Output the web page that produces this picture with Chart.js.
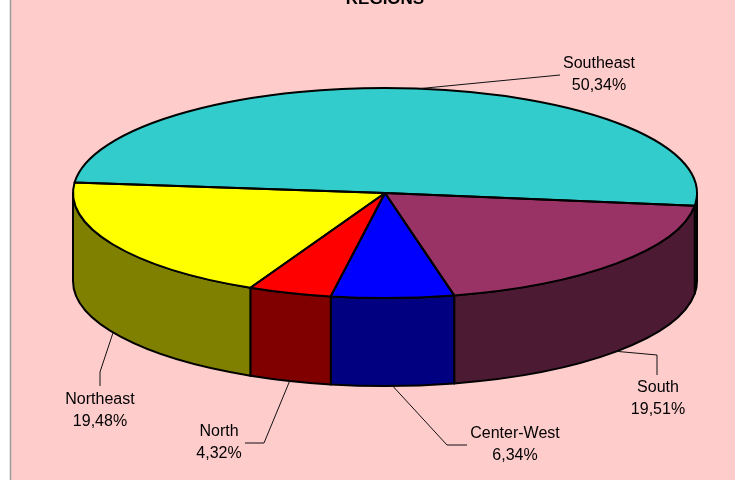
<!DOCTYPE html>
<html><head><meta charset="utf-8">
<script src="https://cdn.jsdelivr.net/npm/chart.js@4.4.0/dist/chart.umd.min.js"></script>
<style>html,body{margin:0;padding:0;background:#fff;overflow:hidden}canvas{display:block}</style>
</head><body>
<canvas id="c" width="735" height="480"></canvas>
<script>
const chartTitle = 'REGIONS';
const categories = ['Southeast', 'South', 'Center-West', 'North', 'Northeast'];
const shares = [50.34, 19.51, 6.34, 4.32, 19.48];
const shareLabels = ['50,34%', '19,51%', '6,34%', '4,32%', '19,48%'];
const topColors = ['#33CCCC', '#993366', '#0000FF', '#FF0000', '#FFFF00'];
const sideColors = ['#1A6666', '#4D1A33', '#000080', '#800000', '#808000'];

// layout / style settings (not data)
const layout = {
  frameLeft: 11,
  depth: 88,
  stroke: 2,
  titleBaseline: 4,
  lineGap: 22,
  labels: [
    { x: 599, y: 64, path: [[560, 75]] },
    { x: 658, y: 388, path: [[657, 355], [657, 375]] },
    { x: 515, y: 434, path: [[447, 445], [467, 445]] },
    { x: 219, y: 432, path: [[264, 443], [245, 443]] },
    { x: 100, y: 400, path: [[100, 372], [100, 386]] }
  ]
};
const FONT = '"Liberation Sans", Arial, Helvetica, sans-serif';

function geom(chart) {
  const arcs = chart.getDatasetMeta(0).data;
  const a0 = arcs[0];
  const r = a0.outerRadius;
  const rx = chart.chartArea.width / 2;
  return { arcs, cx: a0.x, cy: a0.y, rx, ry: r, sx: rx / r };
}

const pie3d = {
  id: 'pie3d',
  beforeDraw(chart) {
    const { ctx, width, height } = chart;
    ctx.save();
    ctx.fillStyle = '#FFFFFF';
    ctx.fillRect(0, 0, width, height);
    ctx.fillStyle = '#FFCCCC';
    ctx.fillRect(layout.frameLeft, 0, width - layout.frameLeft, height);
    ctx.strokeStyle = '#9A9A9A';
    ctx.lineWidth = 1.5;
    ctx.beginPath();
    ctx.moveTo(layout.frameLeft - 0.5, 0);
    ctx.lineTo(layout.frameLeft - 0.5, height);
    ctx.stroke();
    ctx.fillStyle = '#000';
    ctx.font = 'bold 17px ' + FONT;
    ctx.textAlign = 'center';
    ctx.textBaseline = 'alphabetic';
    ctx.fillText(chartTitle, (chart.chartArea.left + chart.chartArea.right) / 2, layout.titleBaseline);
    ctx.restore();
  },
  beforeDatasetsDraw(chart) {
    const g = geom(chart);
    const ctx = chart.ctx;
    const d = layout.depth;
    ctx.save();
    ctx.lineWidth = layout.stroke;
    ctx.strokeStyle = '#000';
    ctx.lineJoin = 'round';
    g.arcs.forEach((arc, i) => {
      for (const k of [-2, 0, 2]) {
        const s = Math.max(arc.startAngle, k * Math.PI);
        const e = Math.min(arc.endAngle, k * Math.PI + Math.PI);
        if (e > s) {
          ctx.beginPath();
          ctx.ellipse(g.cx, g.cy, g.rx, g.ry, 0, s, e);
          ctx.lineTo(g.cx + g.rx * Math.cos(e), g.cy + g.ry * Math.sin(e) + d);
          ctx.ellipse(g.cx, g.cy + d, g.rx, g.ry, 0, e, s, true);
          ctx.closePath();
          ctx.fillStyle = sideColors[i];
          ctx.fill();
          ctx.stroke();
        }
      }
    });
    ctx.restore();
    ctx.save();
    ctx.translate(g.cx, g.cy);
    ctx.scale(g.sx, 1);
    ctx.translate(-g.cx, -g.cy);
  },
  afterDatasetsDraw(chart) {
    const ctx = chart.ctx;
    ctx.restore();
    const g = geom(chart);
    const d = layout.depth;
    ctx.save();
    ctx.lineWidth = layout.stroke;
    ctx.strokeStyle = '#000';
    ctx.lineJoin = 'round';
    g.arcs.forEach((arc) => {
      ctx.beginPath();
      ctx.moveTo(g.cx, g.cy);
      ctx.ellipse(g.cx, g.cy, g.rx, g.ry, 0, arc.startAngle, arc.endAngle);
      ctx.closePath();
      ctx.stroke();
    });
    // labels with leader lines
    ctx.lineWidth = 1;
    ctx.strokeStyle = '#111';
    ctx.fillStyle = '#000';
    ctx.font = '16px ' + FONT;
    ctx.textAlign = 'center';
    ctx.textBaseline = 'middle';
    g.arcs.forEach((arc, i) => {
      const mid = (arc.startAngle + arc.endAngle) / 2;
      const sn = Math.sin(mid);
      const ax = g.cx + g.rx * Math.cos(mid);
      const ay = g.cy + g.ry * sn + (sn > 0 ? d : 0);
      const L = layout.labels[i];
      ctx.beginPath();
      ctx.moveTo(ax, ay);
      L.path.forEach(p => ctx.lineTo(p[0], p[1]));
      ctx.stroke();
      ctx.fillText(categories[i], L.x, L.y);
      ctx.fillText(shareLabels[i], L.x, L.y + layout.lineGap);
    });
    ctx.restore();
  }
};

new Chart(document.getElementById('c'), {
  type: 'pie',
  data: {
    labels: categories,
    datasets: [{
      data: shares,
      backgroundColor: topColors,
      borderWidth: 0,
      hoverOffset: 0
    }]
  },
  options: {
    responsive: false,
    animation: false,
    events: [],
    rotation: -84.3,
    layout: { padding: { left: 73, right: 38, top: 88, bottom: 182 } },
    plugins: {
      legend: { display: false },
      title: { display: false },
      tooltip: { enabled: false }
    }
  },
  plugins: [pie3d]
});
</script>
</body></html>
